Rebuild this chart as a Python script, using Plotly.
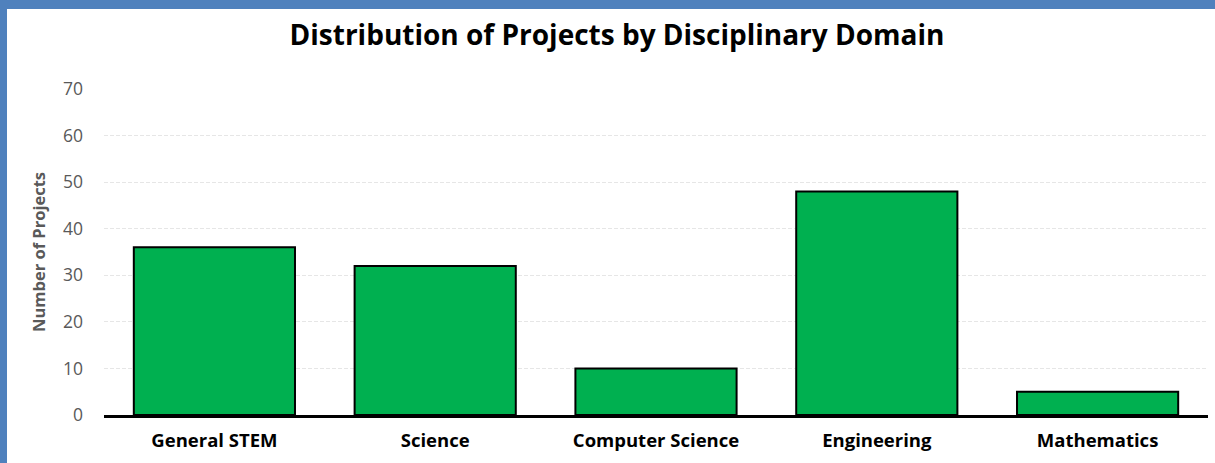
import plotly.graph_objects as go

categories = ["General STEM", "Science", "Computer Science", "Engineering", "Mathematics"]
values = [36, 32, 10, 48, 5]
y_ticks = [0, 10, 20, 30, 40, 50, 60, 70]

W, H = 1215, 463
ML, MR, MT, MB = 104, 7, 89, 48
PW, PH = W - ML - MR, H - MT - MB
FONT = "Open Sans, Lato, sans-serif"
BLUE = "#4F81BD"

fig = go.Figure(go.Bar(
    x=categories, y=values,
    marker=dict(color="#00B050", line=dict(color="#000000", width=2)),
    width=0.73,
))

shapes = [
    dict(type="rect", xref="paper", yref="paper", layer="above",
         x0=-ML / PW, x1=(-ML + 7) / PW, y0=-MB / PH, y1=1 + MT / PH,
         fillcolor=BLUE, line=dict(width=0)),
    dict(type="rect", xref="paper", yref="paper", layer="above",
         x0=-ML / PW, x1=1 + MR / PW, y0=1 + (MT - 9) / PH, y1=1 + MT / PH,
         fillcolor=BLUE, line=dict(width=0)),
]

fig.update_layout(
    width=W, height=H,
    margin=dict(l=ML, r=MR, t=MT, b=MB),
    paper_bgcolor="white", plot_bgcolor="white",
    font=dict(family=FONT),
    title=dict(text="<b>Distribution of Projects by Disciplinary Domain</b>",
               x=(617 - ML) / PW, xref="paper", xanchor="center",
               y=1 - 35 / H, yanchor="middle",
               font=dict(size=28, color="#000000", family=FONT)),
    showlegend=False,
    shapes=shapes,
    bargap=0.27,
)
fig.update_xaxes(
    showline=True, linecolor="#000000", linewidth=2.5,
    tickfont=dict(size=18.5, color="#000000", family=FONT),
    tickprefix="<b>", ticksuffix="</b>",
    showgrid=False, ticks="", ticklabelstandoff=7,
)
fig.update_yaxes(
    range=[0, 70], tickvals=y_ticks,
    showgrid=True, gridcolor="#e6e6e6", griddash="4px,2px", gridwidth=1,
    zeroline=False, showline=False, ticks="",
    tickfont=dict(size=17.5, color="#595959", family=FONT),
    ticklabelstandoff=20,
    title=dict(text="<b>Number of Projects</b>", font=dict(size=16.5, color="#595959", family=FONT), standoff=13),
)

fig.write_html(
    "out.html",
    config={"displayModeBar": False},
    post_script="document.body.style.margin='0';document.body.style.overflow='hidden';",
)
